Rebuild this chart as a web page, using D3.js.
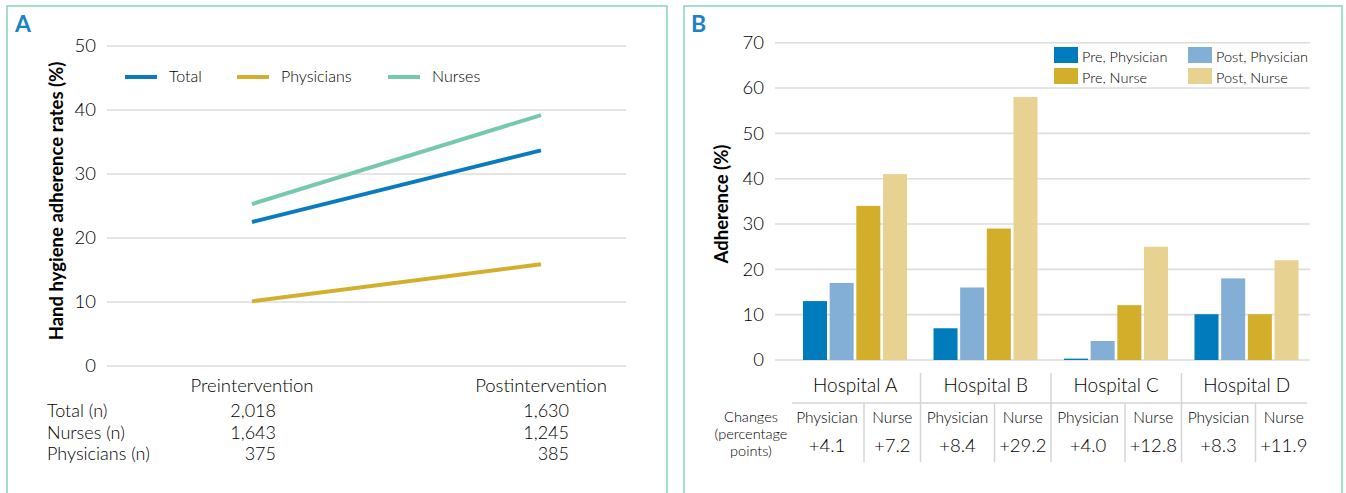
<!DOCTYPE html>
<html><head><meta charset="utf-8">
<script src="https://cdn.jsdelivr.net/npm/d3@7"></script>
<style>
body{margin:0;background:#fff;}
svg{display:block;font-family:Lato,"Open Sans",sans-serif;font-weight:300;}
text{fill:#000;}
</style></head>
<body>
<svg id="c" width="1346" height="493"></svg>
<script>
// ---- Panel A data ----
const lineCategories = ["Preintervention", "Postintervention"];
const totalRates = [22.5, 33.7];
const physicianRates = [10.1, 15.9];
const nurseRates = [25.3, 39.2];
const lineSeriesNames = ["Total", "Physicians", "Nurses"];
const lineTicks = [0, 10, 20, 30, 40, 50];
const countRowLabels = ["Total (n)", "Nurses (n)", "Physicians (n)"];
const preCounts = ["2,018", "1,643", "375"];
const postCounts = ["1,630", "1,245", "385"];

// ---- Panel B data ----
const hospitals = ["Hospital A", "Hospital B", "Hospital C", "Hospital D"];
const barSeriesNames = ["Pre, Physician", "Post, Physician", "Pre, Nurse", "Post, Nurse"];
const prePhysician = [13, 7, 0.3, 10.1];
const postPhysician = [17, 16, 4.2, 18];
const preNurse = [34, 29, 12.1, 10.1];
const postNurse = [41, 58, 25, 22];
const barTicks = [0, 10, 20, 30, 40, 50, 60, 70];
const changeHeaders = ["Physician", "Nurse"];
const physicianChange = ["+4.1", "+8.4", "+4.0", "+8.3"];
const nurseChange = ["+7.2", "+29.2", "+12.8", "+11.9"];
const changesLabel = ["Changes", "(percentage", "points)"];

const svg = d3.select("#c");
const borderColor = "#86d3bd";
const gridColor = "#dddddd";
const tableColor = "#d4d4d4";

// Panel borders
svg.append("rect").attr("x", 7).attr("y", 6).attr("width", 660).attr("height", 520)
  .attr("fill", "none").attr("stroke", borderColor).attr("stroke-width", 1.5);
svg.append("rect").attr("x", 684).attr("y", 6).attr("width", 658).attr("height", 520)
  .attr("fill", "none").attr("stroke", borderColor).attr("stroke-width", 1.5);

svg.append("text").attr("x", 15).attr("y", 32).text("A")
  .style("font-size", "23px").style("font-weight", "700").style("fill", "#1b82c4");
svg.append("text").attr("x", 691).attr("y", 32).text("B")
  .style("font-size", "23px").style("font-weight", "700").style("fill", "#1b82c4");

// ================= Panel A =================
const xA = d3.scalePoint().domain(lineCategories).range([252, 541]);
const yA = d3.scaleLinear().domain([0, 50]).range([366, 46]);
const gA = svg.append("g");

gA.selectAll("line.grid").data(lineTicks).join("line")
  .attr("x1", 107).attr("x2", 626)
  .attr("y1", d => yA(d)).attr("y2", d => yA(d))
  .attr("stroke", gridColor).attr("stroke-width", 1.6);

const axA = gA.append("g").attr("transform", "translate(101,0)")
  .call(d3.axisLeft(yA).tickValues(lineTicks).tickSize(0).tickPadding(5));
axA.select(".domain").remove();
axA.selectAll("text").style("font-size", "18.5px").style("font-family", "Lato").style("font-weight", "300").attr("fill", "#000");

gA.append("text").attr("transform", "translate(63,201) rotate(-90)")
  .attr("text-anchor", "middle").text("Hand hygiene adherence rates (%)")
  .style("font-size", "18.5px").style("font-weight", "700");

const lineColors = {Total: "#0a7bbf", Physicians: "#d2b02d", Nurses: "#76c9ad"};
const lineData = {Total: totalRates, Physicians: physicianRates, Nurses: nurseRates};
const lineGen = d3.line().x((d, i) => xA(lineCategories[i])).y(d => yA(d));
["Physicians", "Total", "Nurses"].forEach(name => {
  gA.append("path").datum(lineData[name]).attr("d", lineGen)
    .attr("fill", "none").attr("stroke", lineColors[name]).attr("stroke-width", 4);
});

// legend A
const legA = [125, 237, 388];
lineSeriesNames.forEach((name, i) => {
  gA.append("line").attr("x1", legA[i]).attr("x2", legA[i] + 32).attr("y1", 77).attr("y2", 77)
    .attr("stroke", lineColors[name]).attr("stroke-width", 4);
  gA.append("text").attr("x", legA[i] + 44).attr("y", 82).text(name).style("font-size", "16px");
});

// category labels
gA.selectAll("text.cat").data(lineCategories).join("text")
  .attr("x", d => xA(d)).attr("y", 392).attr("text-anchor", "middle")
  .text(d => d).style("font-size", "18.5px");

// counts
const rowY = [417, 439, 460];
countRowLabels.forEach((lab, i) => {
  gA.append("text").attr("x", 47).attr("y", rowY[i]).text(lab).style("font-size", "18px");
  gA.append("text").attr("x", 276).attr("y", rowY[i]).attr("text-anchor", "end").text(preCounts[i]).style("font-size", "18px");
  gA.append("text").attr("x", 569).attr("y", rowY[i]).attr("text-anchor", "end").text(postCounts[i]).style("font-size", "18px");
});

// ================= Panel B =================
const yB = d3.scaleLinear().domain([0, 70]).range([360, 42.7]);
const xB = d3.scaleBand().domain(hospitals).range([790, 1312]);
const xInner = d3.scaleBand().domain(barSeriesNames).range([13, 117]).paddingInner(0.1).paddingOuter(0);
const barColors = ["#007bbb", "#83aed6", "#d2ae2b", "#e8d291"];
const barValues = [prePhysician, postPhysician, preNurse, postNurse];
const gB = svg.append("g");

gB.selectAll("line.grid").data(barTicks).join("line")
  .attr("x1", 775).attr("x2", 1310)
  .attr("y1", d => yB(d)).attr("y2", d => yB(d))
  .attr("stroke", gridColor).attr("stroke-width", 1.6);

const axB = gB.append("g").attr("transform", "translate(769,0)")
  .call(d3.axisLeft(yB).tickValues(barTicks).tickSize(0).tickPadding(5));
axB.select(".domain").remove();
axB.selectAll("text").style("font-size", "18.5px").style("font-family", "Lato").style("font-weight", "300").attr("fill", "#000");

gB.append("text").attr("transform", "translate(728,204) rotate(-90)")
  .attr("text-anchor", "middle").text("Adherence (%)")
  .style("font-size", "18.5px").style("font-weight", "700");

barSeriesNames.forEach((s, si) => {
  gB.selectAll("rect.s" + si).data(hospitals).join("rect")
    .attr("x", h => xB(h) + xInner(s))
    .attr("width", xInner.bandwidth())
    .attr("y", (h, hi) => yB(barValues[si][hi]))
    .attr("height", (h, hi) => yB(0) - yB(barValues[si][hi]))
    .attr("fill", barColors[si]);
});

// legend B
const legPos = [[1054, 47], [1188, 47], [1054, 68], [1188, 68]];
barSeriesNames.forEach((name, si) => {
  const [lx, ly] = legPos[si];
  gB.append("rect").attr("x", lx).attr("y", ly).attr("width", 24).attr("height", 16).attr("fill", barColors[si]);
  gB.append("text").attr("x", lx + 28).attr("y", ly + 14.5).text(name).style("font-size", "14.5px");
});

// table under bars
gB.selectAll("text.hosp").data(hospitals).join("text")
  .attr("x", h => xB(h) + xB.bandwidth() / 2).attr("y", 392).attr("text-anchor", "middle")
  .text(h => h).style("font-size", "19px");

hospitals.slice(1).forEach(h => {
  gB.append("line").attr("x1", xB(h)).attr("x2", xB(h)).attr("y1", 373).attr("y2", 462)
    .attr("stroke", tableColor).attr("stroke-width", 1.5);
});
gB.append("line").attr("x1", 792).attr("x2", 1307).attr("y1", 403).attr("y2", 403)
  .attr("stroke", tableColor).attr("stroke-width", 1.5);

const splitOff = 74;
hospitals.forEach((h, hi) => {
  const x0 = xB(h), x1 = xB(h) + xB.bandwidth();
  const xs = x0 + splitOff;
  gB.append("line").attr("x1", xs).attr("x2", xs).attr("y1", 403).attr("y2", 462)
    .attr("stroke", tableColor).attr("stroke-width", 1.5);
  const c1 = (x0 + xs) / 2, c2 = (xs + x1) / 2;
  gB.append("text").attr("x", c1).attr("y", 423).attr("text-anchor", "middle").text(changeHeaders[0]).style("font-size", "15.5px");
  gB.append("text").attr("x", c2).attr("y", 423).attr("text-anchor", "middle").text(changeHeaders[1]).style("font-size", "15.5px");
  gB.append("text").attr("x", c1).attr("y", 452).attr("text-anchor", "middle").text(physicianChange[hi]).style("font-size", "18.5px");
  gB.append("text").attr("x", c2).attr("y", 452).attr("text-anchor", "middle").text(nurseChange[hi]).style("font-size", "18.5px");
});

changesLabel.forEach((t, i) => {
  gB.append("text").attr("x", 751).attr("y", 422 + i * 17).attr("text-anchor", "middle").text(t).style("font-size", "14.5px");
});
</script>
</body></html>
